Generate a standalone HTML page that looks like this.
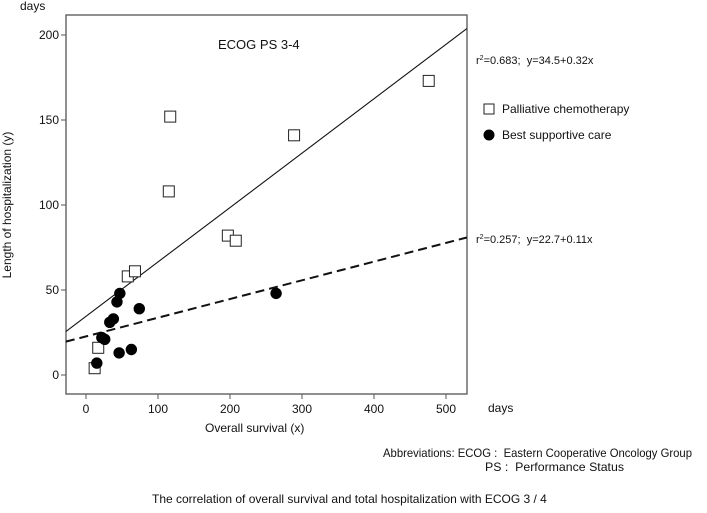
<!DOCTYPE html>
<html><head><meta charset="utf-8"><style>
body{margin:0;background:#fff;font-family:"Liberation Sans",sans-serif;}
svg text{font-family:"Liberation Sans",sans-serif;fill:#111;white-space:pre;}
</style></head><body>
<svg id="chart" width="707" height="508" viewBox="0 0 707 508" xmlns="http://www.w3.org/2000/svg">
<rect x="66" y="15" width="401" height="379" fill="#fff" stroke="#555" stroke-width="1.3"/>
<g id="ticks"></g>
<g id="lines"></g>
<g id="marks"></g>
<text x="20" y="10" font-size="12">days</text>
<text x="488" y="412" font-size="12">days</text>
<text x="218" y="49" font-size="13">ECOG PS 3-4</text>
<text x="205" y="432" font-size="12">Overall survival (x)</text>
<text transform="translate(11,205) rotate(-90)" text-anchor="middle" font-size="12">Length of hospitalization (y)</text>
<text x="476" y="64" font-size="11">r<tspan font-size="7" dy="-4">2</tspan><tspan dy="4">=0.683;&#160;&#160;y=34.5+0.32x</tspan></text>
<text x="476" y="243" font-size="11">r<tspan font-size="7" dy="-4">2</tspan><tspan dy="4">=0.257;&#160;&#160;y=22.7+0.11x</tspan></text>
<rect x="484" y="104" width="10" height="10" fill="#fff" stroke="#222"/>
<text x="502" y="113" font-size="12">Palliative chemotherapy</text>
<circle cx="489" cy="135" r="5.5" fill="#000"/>
<text x="502" y="139" font-size="12">Best supportive care</text>
<text x="383" y="457" font-size="12" textLength="309" lengthAdjust="spacingAndGlyphs">Abbreviations: ECOG :&#160;&#160;Eastern Cooperative Oncology Group</text>
<text x="485" y="471" font-size="12" textLength="139" lengthAdjust="spacingAndGlyphs">PS :&#160;&#160;Performance Status</text>
<text x="152" y="503" font-size="12">The correlation of overall survival and total hospitalization with ECOG 3 / 4</text>
</svg>
<script>
const xTicks=[0,100,200,300,400,500];
const yTicks=[0,50,100,150,200];
const chemoX=[12,17,58,68,115,117,197,208,289,476];
const chemoY=[4,16,58,61,108,152,82,79,141,173];
const bscX=[15,22,26,33,38,43,46,47,63,74,264];
const bscY=[7,22,21,31,33,43,13,48,15,39,48];
const fitChemo=[34.5,0.32];
const fitBsc=[22.7,0.11];
const xMin=-28,xMax=529;
const sx=v=>86+v*0.72, sy=v=>375-v*1.7;
const NS="http://www.w3.org/2000/svg";
function mk(t,a,p){const e=document.createElementNS(NS,t);for(const k in a)e.setAttribute(k,a[k]);p.appendChild(e);return e;}
const tg=document.getElementById('ticks'),lg=document.getElementById('lines'),mg=document.getElementById('marks');
xTicks.forEach(v=>{const l=mk('line',{x1:sx(v),x2:sx(v),y1:394,y2:399,stroke:'#555'},tg);


const t=mk('text',{x:sx(v),y:413,'text-anchor':'middle','font-size':12},tg);t.textContent=v;

});
yTicks.forEach(v=>{const l=mk('line',{x1:61,x2:66,y1:sy(v),y2:sy(v),stroke:'#555'},tg);


const t=mk('text',{x:59,y:sy(v)+4,'text-anchor':'end','font-size':12},tg);t.textContent=v;

});
const f1=mk('line',{x1:sx(xMin),y1:sy(fitChemo[0]+fitChemo[1]*xMin),x2:sx(xMax),y2:sy(fitChemo[0]+fitChemo[1]*xMax),stroke:'#111','stroke-width':1.1},lg);


const f2=mk('line',{x1:sx(xMin),y1:sy(fitBsc[0]+fitBsc[1]*xMin),x2:sx(xMax),y2:sy(fitBsc[0]+fitBsc[1]*xMax),stroke:'#111','stroke-width':2,'stroke-dasharray':'9,5'},lg);


chemoX.forEach((v,i)=>{const r=mk('rect',{x:sx(v)-5.5,y:sy(chemoY[i])-5.5,width:11,height:11,fill:'#fff',stroke:'#222','stroke-width':1},mg);

});
bscX.forEach((v,i)=>{const c=mk('circle',{cx:sx(v),cy:sy(bscY[i]),r:5.7,fill:'#000'},mg);

});
</script>
</body></html>
